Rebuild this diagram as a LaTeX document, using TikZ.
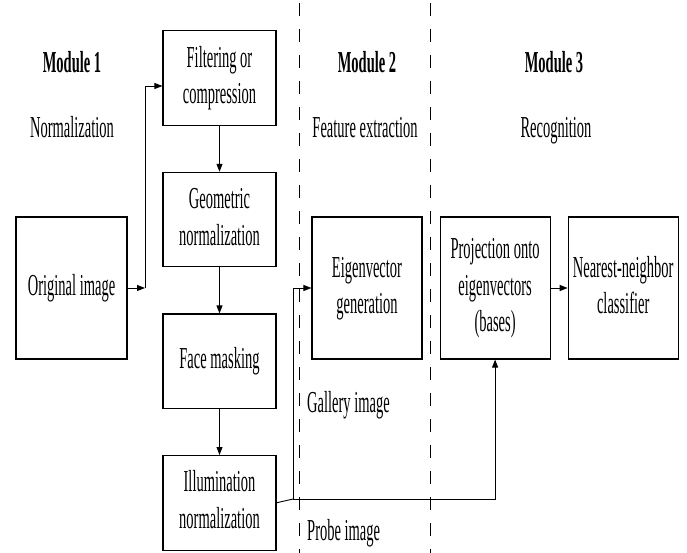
\documentclass[tikz,border=0pt]{standalone}
\usepackage{fontspec}
\setmainfont{Liberation Serif}
\usepackage{graphicx}
\usetikzlibrary{positioning, arrows.meta}
\newcommand{\stretchtext}[1]{\scalebox{1}[2.1]{\begin{tabular}{@{}c@{}}#1\end{tabular}}}
\tikzset{
  block/.style={draw, line width=1.1pt, inner sep=0pt, minimum width=113pt, minimum height=94.5pt, align=center, font=\fontsize{14.5}{17.4}\selectfont},
  tallblock/.style={block, minimum width=110pt, minimum height=142pt},
  lbl/.style={inner sep=0pt, font=\fontsize{14.5}{17.4}\selectfont},
  arr/.style={-{Triangle[length=8pt, width=6pt]}, line width=0.9pt},
  link/.style={line width=0.9pt},
  divider/.style={dashed, dash pattern=on 13pt off 13pt, line width=1pt}
}
\begin{document}
\begin{tikzpicture}[x=1pt, y=-1pt]
\useasboundingbox (0,0) rectangle (687,553);
% module dividers
\draw[divider] (299,3) -- (299,553);
\draw[divider] (430,3) -- (430,553);
% module titles
\node[lbl, font=\fontsize{14.5}{17.4}\selectfont\bfseries] (mod1) at (72,65) {\stretchtext{Module 1}};
\node[lbl] (norm) at (72,130) {\stretchtext{Normalization}};
\node[lbl, font=\fontsize{14.5}{17.4}\selectfont\bfseries] (mod2) at (367,65) {\stretchtext{Module 2}};
\node[lbl] (feat) at (365,130) {\stretchtext{Feature extraction}};
\node[lbl, font=\fontsize{14.5}{17.4}\selectfont\bfseries] (mod3) at (554,65) {\stretchtext{Module 3}};
\node[lbl] (recog) at (556,130) {\stretchtext{Recognition}};
% module 1
\node[tallblock, minimum width=111pt] (orig) at (71.5,288) {\stretchtext{Original image}};
\node[block] (filter) at (219.5,78) {\stretchtext{Filtering or\\compression}};
\node[block, below=46pt of filter] (geom) {\stretchtext{Geometric\\normalization}};
\node[block, below=46pt of geom] (mask) {\stretchtext{Face masking}};
\node[block, below=46pt of mask] (illum) {\stretchtext{Illumination\\normalization}};
% modules 2 and 3
\node[tallblock] (eigen) at (367,288) {\stretchtext{Eigenvector\\generation}};
\node[tallblock, right=17pt of eigen] (proj) {\stretchtext{Projection onto\\eigenvectors\\(bases)}};
\node[tallblock, right=17pt of proj] (nn) {\stretchtext{Nearest-neighbor\\classifier}};
\node[lbl, anchor=west] (gallery) at (307,405) {\stretchtext{Gallery image}};
\node[lbl, anchor=west] (probe) at (307,533) {\stretchtext{Probe image}};
% connectors
\coordinate (split1) at (145,288);
\coordinate (split2) at (293,499);
\draw[arr] (orig) -- (split1);
\draw[arr] (split1) |- ([yshift=-8pt]filter.west);
\draw[arr] (filter) -- (geom);
\draw[arr] (geom) -- (mask);
\draw[arr] (mask) -- (illum);
\draw[link] (illum.east) -- (split2);
\draw[arr] (split2) |- (eigen.west);
\draw[arr] (split2) -| (proj.south);
\draw[arr] (proj) -- (nn);
\end{tikzpicture}
\end{document}
